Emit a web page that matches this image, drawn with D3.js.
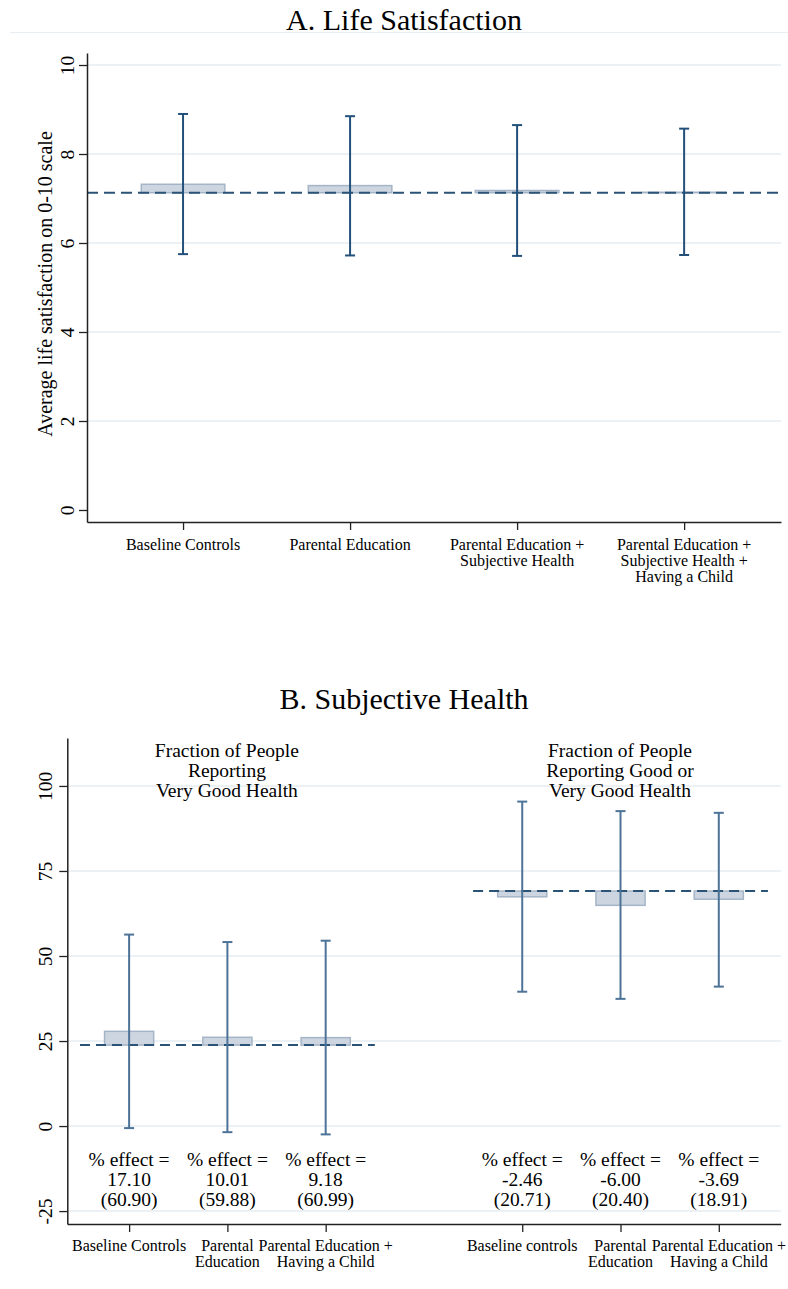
<!DOCTYPE html>
<html>
<head>
<meta charset="utf-8">
<script src="https://cdn.jsdelivr.net/npm/d3@7/dist/d3.min.js"></script>
<style>
  html, body { margin: 0; padding: 0; background: #fff; }
  svg { display: block; }
  text { font-family: "Liberation Serif", "Times New Roman", serif; fill: #000; }
</style>
</head>
<body>
<svg id="chart" width="788" height="1289"></svg>
<script>
// ---------- Panel A data ----------
const catsA = [
  ["Baseline Controls"],
  ["Parental Education"],
  ["Parental Education +", "Subjective Health"],
  ["Parental Education +", "Subjective Health +", "Having a Child"]
];
const posA = [1, 2, 3, 4];
const baseA = 7.13;
const valsA = [7.32, 7.29, 7.18, 7.14];
const hiA = [8.90, 8.85, 8.65, 8.57];
const loA = [5.75, 5.72, 5.71, 5.73];
const ticksA = [0, 2, 4, 6, 8, 10];
const gridA = [2, 4, 6, 8, 10];

// ---------- Panel B data ----------
const catsB = [
  ["Baseline Controls"],
  ["Parental", "Education"],
  ["Parental Education +", "Having a Child"],
  ["Baseline controls"],
  ["Parental", "Education"],
  ["Parental Education +", "Having a Child"]
];
const posB = [1, 2, 3, 5, 6, 7];
const baseB1 = 23.8;
const valsB1 = [27.85, 26.1, 26.0];
const hiB1 = [56.3, 54.1, 54.5];
const loB1 = [-0.6, -1.8, -2.45];
const baseB2 = 69.1;
const valsB2 = [67.4, 64.9, 66.7];
const hiB2 = [95.4, 92.6, 92.1];
const loB2 = [39.5, 37.4, 41.0];
const effB = ["17.10", "10.01", "9.18", "-2.46", "-6.00", "-3.69"];
const seB = ["(60.90)", "(59.88)", "(60.99)", "(20.71)", "(20.40)", "(18.91)"];
const headB1 = ["Fraction of People", "Reporting", "Very Good Health"];
const headB2 = ["Fraction of People", "Reporting Good or", "Very Good Health"];
const ticksB = [-25, 0, 25, 50, 75, 100];

// ---------- styles ----------
const FILL = "#cdd6e0", BSTROKE = "#a5b5c7";
const ERR_A = "#23507a", ERR_B = "#4d7398", DASH = "#2a5377";
const GRID = "#e5edf1", AXIS = "#222";

const svg = d3.select("#chart");

function styleAxis(g) {
  g.select(".domain").attr("stroke", AXIS).attr("stroke-width", 1.5);
  g.selectAll(".tick line").attr("stroke", AXIS).attr("stroke-width", 1.3);
}

function xLabels(g, x, pos, cats, y0, size) {
  pos.forEach((p, i) => {
    const t = g.append("text").attr("text-anchor", "middle")
      .attr("font-size", size);
    cats[i].forEach((line, j) => {
      t.append("tspan").attr("x", x(p)).attr("y", y0 + j * 16).text(line);
    });
  });
}

function errorBars(g, x, y, pos, lo, hi, color) {
  const eb = g.append("g").attr("stroke", color).attr("stroke-width", 2).attr("fill", "none");
  pos.forEach((p, i) => {
    eb.append("line").attr("x1", x(p)).attr("x2", x(p)).attr("y1", y(lo[i])).attr("y2", y(hi[i]));
    eb.append("line").attr("x1", x(p) - 5).attr("x2", x(p) + 5).attr("y1", y(lo[i])).attr("y2", y(lo[i]));
    eb.append("line").attr("x1", x(p) - 5).attr("x2", x(p) + 5).attr("y1", y(hi[i])).attr("y2", y(hi[i]));
  });
}

function bars(g, x, y, pos, vals, base, halfw) {
  g.append("g").selectAll("rect").data(pos).join("rect")
    .attr("x", (p) => x(p - halfw))
    .attr("width", (p) => x(p + halfw) - x(p - halfw))
    .attr("y", (p, i) => y(Math.max(vals[i], base)))
    .attr("height", (p, i) => Math.abs(y(vals[i]) - y(base)))
    .attr("fill", FILL).attr("stroke", BSTROKE).attr("stroke-width", 1.5);
}

const plainFmt = (d) => String(d);

// =============== Panel A ===============
{
  const g = svg.append("g");
  g.append("text").attr("x", 404).attr("y", 30).attr("text-anchor", "middle")
    .attr("font-size", 30).text("A. Life Satisfaction");
  g.append("line").attr("x1", 10).attr("x2", 788).attr("y1", 32.5).attr("y2", 32.5)
    .attr("stroke", "#e8eef1").attr("stroke-width", 1.2);

  const x = d3.scaleLinear().domain([0.425, 4.58]).range([87, 781]);
  const y = d3.scaleLinear().domain([-0.27, 10.27]).range([522, 53]);

  g.append("g").selectAll("line").data(gridA).join("line")
    .attr("x1", 87).attr("x2", 781).attr("y1", (d) => y(d)).attr("y2", (d) => y(d))
    .attr("stroke", GRID).attr("stroke-width", 1.5);

  bars(g, x, y, posA, valsA, baseA, 0.25);

  g.append("line").attr("x1", x(0.425)).attr("x2", x(4.58))
    .attr("y1", y(baseA)).attr("y2", y(baseA))
    .attr("stroke", DASH).attr("stroke-width", 2).attr("stroke-dasharray", "11,6");

  errorBars(g, x, y, posA, loA, hiA, ERR_A);

  const ya = g.append("g").attr("transform", "translate(87,0)")
    .call(d3.axisLeft(y).tickValues(ticksA).tickSize(8).tickSizeOuter(0).tickFormat(plainFmt));
  styleAxis(ya);
  ya.selectAll(".tick text").attr("transform", "rotate(-90)")
    .attr("x", 0).attr("y", -13.5).attr("dy", 0).attr("text-anchor", "middle")
    .attr("font-size", 19.5).attr("font-family", "Liberation Serif").attr("fill", "#000");

  const xa = g.append("g").attr("transform", "translate(0,522)")
    .call(d3.axisBottom(x).tickValues(posA).tickSize(8).tickSizeOuter(0).tickFormat(""));
  styleAxis(xa);
  xLabels(g, x, posA, catsA, 549.5, 16);

  g.append("text").attr("transform", "translate(52,284) rotate(-90)")
    .attr("text-anchor", "middle").attr("font-size", 20)
    .text("Average life satisfaction on 0-10 scale");
}

// =============== Panel B ===============
{
  const g = svg.append("g");
  g.append("text").attr("x", 404).attr("y", 709).attr("text-anchor", "middle")
    .attr("font-size", 30).text("B. Subjective Health");

  const x = d3.scaleLinear().domain([0.371, 7.63]).range([67.3, 780.7]);
  const y = d3.scaleLinear().domain([-28.8, 114.1]).range([1224, 738]);

  g.append("g").selectAll("line").data(ticksB).join("line")
    .attr("x1", 67.3).attr("x2", 780.7).attr("y1", (d) => y(d)).attr("y2", (d) => y(d))
    .attr("stroke", GRID).attr("stroke-width", 1.5);

  bars(g, x, y, posB.slice(0, 3), valsB1, baseB1, 0.25);
  bars(g, x, y, posB.slice(3), valsB2, baseB2, 0.25);

  g.append("line").attr("x1", x(0.5)).attr("x2", x(3.5))
    .attr("y1", y(baseB1)).attr("y2", y(baseB1))
    .attr("stroke", DASH).attr("stroke-width", 2).attr("stroke-dasharray", "10,6");
  g.append("line").attr("x1", x(4.5)).attr("x2", x(7.5))
    .attr("y1", y(baseB2)).attr("y2", y(baseB2))
    .attr("stroke", DASH).attr("stroke-width", 2).attr("stroke-dasharray", "10,6");

  errorBars(g, x, y, posB.slice(0, 3), loB1, hiB1, ERR_B);
  errorBars(g, x, y, posB.slice(3), loB2, hiB2, ERR_B);

  [[headB1, 2], [headB2, 6]].forEach(([lines, p]) => {
    const t = g.append("text").attr("text-anchor", "middle").attr("font-size", 19.5);
    lines.forEach((l, j) => t.append("tspan").attr("x", x(p) - 0.5).attr("y", 757.3 + j * 20).text(l));
  });

  posB.forEach((p, i) => {
    const t = g.append("text").attr("text-anchor", "middle").attr("font-size", 19.5);
    ["% effect =", effB[i], seB[i]].forEach((l, j) =>
      t.append("tspan").attr("x", x(p)).attr("y", 1166 + j * 20).text(l));
  });

  const ya = g.append("g").attr("transform", "translate(67.3,0)")
    .call(d3.axisLeft(y).tickValues(ticksB).tickSize(8).tickSizeOuter(0).tickFormat(plainFmt));
  styleAxis(ya);
  ya.selectAll(".tick text").attr("transform", "rotate(-90)")
    .attr("x", 0).attr("y", -15.3).attr("dy", 0).attr("text-anchor", "middle")
    .attr("font-size", 19.5).attr("font-family", "Liberation Serif").attr("fill", "#000");

  const xa = g.append("g").attr("transform", "translate(0,1224)")
    .call(d3.axisBottom(x).tickValues(posB).tickSize(8).tickSizeOuter(0).tickFormat(""));
  styleAxis(xa);
  xLabels(g, x, posB, catsB, 1250.5, 16);
}
</script>
</body>
</html>
